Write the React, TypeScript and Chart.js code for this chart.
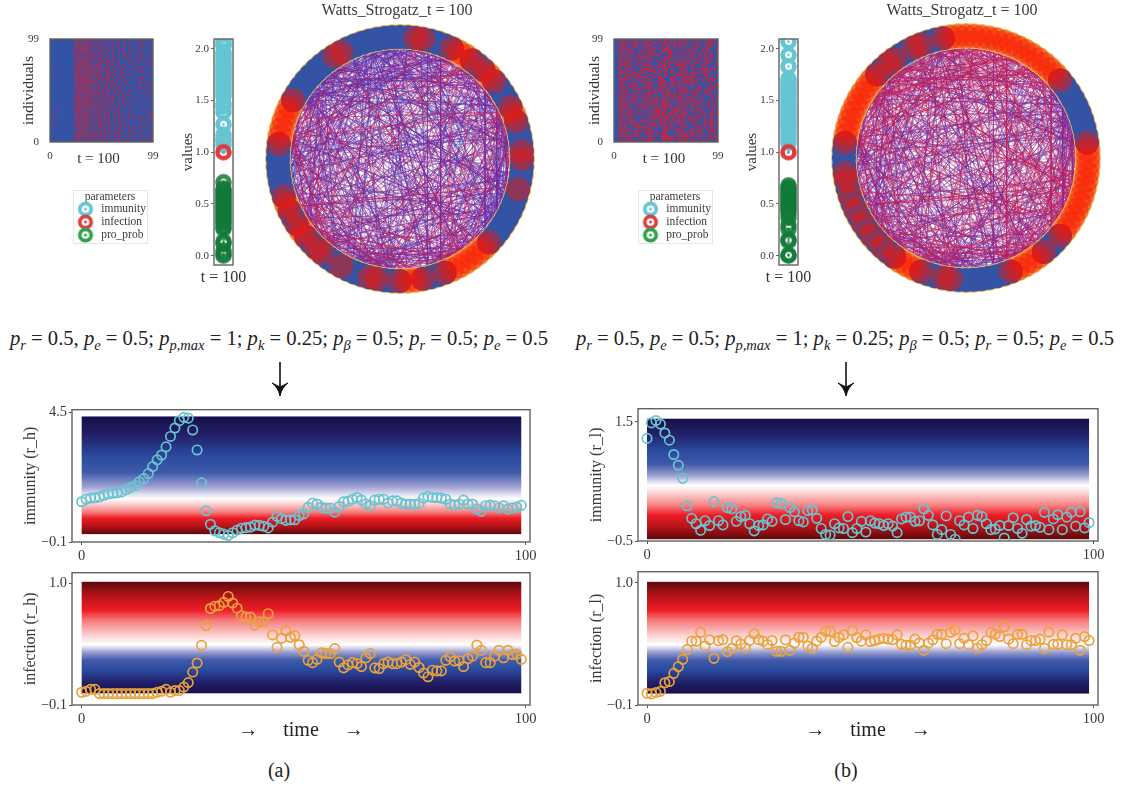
import React, { useEffect, useRef } from "react";
import { Chart, registerables } from "chart.js";

Chart.register(...registerables);

const SERIF = "'Liberation Serif', serif";
const INK = "#3a3a3a";
const TEAL = "#69c4d2";
const ORANGE = "#eba23c";

const immunityHigh = [1.33,1.42,1.46,1.47,1.5,1.56,1.61,1.63,1.65,1.68,1.76,1.83,1.9,2.04,2.15,2.33,2.58,2.82,2.99,3.28,3.65,3.95,4.21,4.33,4.3,3.88,3.17,2.0,1.01,0.53,0.3,0.23,0.18,0.13,0.23,0.32,0.39,0.41,0.43,0.5,0.49,0.46,0.4,0.61,0.81,0.73,0.67,0.69,0.69,0.84,0.9,1.13,1.28,1.25,1.13,1.1,1.1,0.96,1.16,1.33,1.35,1.42,1.48,1.39,1.25,1.19,1.39,1.42,1.42,1.28,1.36,1.36,1.28,1.25,1.25,1.24,1.27,1.46,1.52,1.48,1.48,1.46,1.42,1.25,1.21,1.25,1.39,1.25,1.25,1.07,0.99,1.19,1.21,1.19,1.11,1.19,1.07,1.11,1.14,1.2];
const infectionHigh = [0.015,0.024,0.041,0.041,0.003,0.003,0.003,0.003,0.003,0.003,0.003,0.003,0.003,0.003,0.003,0.003,0.003,0.015,0.024,0.041,0.015,0.03,0.03,0.062,0.103,0.198,0.28,0.44,0.619,0.773,0.794,0.799,0.829,0.882,0.823,0.776,0.708,0.696,0.696,0.622,0.652,0.652,0.726,0.534,0.422,0.504,0.572,0.513,0.528,0.445,0.386,0.304,0.283,0.313,0.372,0.366,0.366,0.41,0.289,0.236,0.263,0.283,0.274,0.248,0.327,0.366,0.236,0.23,0.274,0.289,0.274,0.274,0.289,0.31,0.268,0.289,0.239,0.189,0.156,0.215,0.209,0.209,0.304,0.336,0.298,0.301,0.248,0.319,0.342,0.442,0.395,0.283,0.283,0.342,0.395,0.327,0.395,0.357,0.36,0.313];
const immunityLow = [1.22,1.48,1.52,1.46,1.31,1.19,0.95,0.77,0.55,0.09,-0.12,-0.21,-0.32,-0.16,-0.24,0.16,-0.16,-0.23,0.06,0.04,-0.17,-0.09,-0.07,-0.21,-0.33,-0.24,-0.23,-0.13,-0.17,0.14,0.13,-0.14,0.06,-0.01,-0.16,-0.18,0.01,0.02,-0.12,-0.29,-0.39,-0.4,-0.21,-0.28,-0.29,-0.09,-0.36,-0.29,-0.17,-0.35,-0.16,-0.2,-0.21,-0.24,-0.21,-0.25,-0.36,-0.13,-0.1,-0.1,-0.17,-0.16,0.04,-0.07,-0.23,-0.39,-0.31,-0.08,-0.39,-0.47,-0.16,-0.23,-0.1,-0.29,-0.07,-0.09,-0.21,-0.31,-0.3,-0.24,-0.45,-0.24,-0.11,-0.29,-0.37,-0.14,-0.25,-0.24,-0.27,-0.02,-0.31,-0.13,-0.06,-0.31,-0.1,-0.02,-0.25,-0.01,-0.28,-0.19];
const infectionLow = [0.006,0,0.012,0.023,0.1,0.111,0.185,0.246,0.311,0.399,0.475,0.475,0.554,0.431,0.487,0.32,0.478,0.487,0.381,0.411,0.478,0.449,0.416,0.481,0.54,0.487,0.475,0.443,0.481,0.384,0.384,0.487,0.393,0.457,0.51,0.51,0.431,0.411,0.475,0.51,0.563,0.563,0.472,0.51,0.531,0.419,0.569,0.507,0.475,0.531,0.472,0.481,0.493,0.501,0.493,0.487,0.531,0.446,0.437,0.44,0.493,0.457,0.393,0.457,0.487,0.537,0.537,0.452,0.554,0.575,0.452,0.501,0.443,0.522,0.411,0.443,0.481,0.554,0.537,0.516,0.604,0.493,0.452,0.537,0.537,0.443,0.481,0.481,0.493,0.411,0.557,0.446,0.446,0.531,0.443,0.443,0.501,0.393,0.516,0.481];

const stripImmunityA = [1.07,1.11,1.13,1.17,1.27,1.39,1.44,1.47,1.54,1.57,1.6,1.62,1.65,1.68,1.71,1.73,1.76,1.79,1.81,1.84,1.86,1.89,1.92,1.95,1.97,2.03,2.05,2.08];
const stripProbA = [0,0.02,0.05,0.12,0.14,0.26,0.28,0.31,0.33,0.35,0.37,0.39,0.41,0.43,0.45,0.47,0.49,0.51,0.53,0.55,0.57,0.59,0.61,0.63,0.65,0.71];
const stripImmunityB = [1.09,1.13,1.16,1.2,1.23,1.26,1.29,1.31,1.34,1.37,1.4,1.43,1.46,1.49,1.52,1.55,1.58,1.6,1.63,1.66,1.68,1.71,1.83,1.94,2.07];
const stripProbB = [0,0.01,0.14,0.16,0.26,0.3,0.37,0.41,0.44,0.46,0.48,0.5,0.52,0.54,0.56,0.58,0.6,0.62,0.64,0.66,0.68];
const stripInfection = [1.0];
const stripTicks = [0, 0.5, 1, 1.5, 2];

const legendNames = ["immunity", "infection", "pro_prob"];

// individuals (rows, top = 99) by time: each hex digit holds 4 cells, a set bit = infected
const rasterA = [
"001ef9a481253","000fb6529a142","000de5a148291","000f7b264a185","000bd95a12843",
"001fe6a951248","000df5924a183","000eb9a25148c","000f6d5a14291","000df9a685124",
"000bf6d941282","000fe5ba42918","000fdb9651424","000ef7a928141","200ffd6a51482",
"000fb7d924185","000efb5a61248","000ff69d24812","000dfb7a58142","000fe7d942183",
"000bfe5a94128","000ffb9624182","000df6d5a1428","000fe9b692184","000ffd5a48129",
"000bf7d962841","000efb6954128","000fdf5a92814","000ef9b648121","000ff6da52800",
"000fd9a694100","000bfe5a28400","000ff7d952048","000ed6a940812","100fb9d642081",
"000ef6a954218","400df7b962814","000fe5a94248c","100bf96a52948","000ed7a964182",
"000fb5d92a418","000de6a958124","200f79d4a2941","000be5a96248a","000fd6b952849",
"000ed9a584a12","000b7ea962485","000fd5a9428a5","000e9b6a58492","000d7a59a6249",
];
const rasterB = [
"35a9c6ed3597a","1c6b3a95e2d68","36e5a1d7948b3","1a73c96d258e4","2d49b6e1a73c5",
"3b86d1f49a2c6","15c9e37a6d482","2e5a7c3196db4","3917d4ea6c5b2","16bd82f5a39c4",
"27c4e9a15d6b3","3d1a86bf729c5","1e93c5a7d6284","358d6fb1e4a97","26a7e1c9d53b8",
"1b49f6d8a27c3","3c6e1a95b7d42","27d8a4c3e6195","15bf369d7e4a2","3e92c71a6d5b8",
"1a6d4b9ef7253","2c85e7a93d164","39f1a6cb5482d","16d7e3b9a4c58","2b3a9f65e1d74",
"3c48d6a1f79e2","1e6bf97d2a543","25a9c1e7d38b6","3d76ae5b9c214","18c3f9e5d7a26",
"2f6d1b8a79c54","36a4f9e1c75d2","1c97dbf3a6248","2e5b1d9f7ac36","398a6ecf45d12",
"17d2bf96e4a3c","2a6c9d7ef13b5","3b815fe7c9d26","1d4a7ec96f8b3","25c7a3bf9e164",
"39e4d6a7c15b8","16b8f9d1a73e4","2c7f5ad8e1936","3a95c1e74d6b2","1f36d8ab95c7e",
"24b9e7c1d6a53","3e71a9c5f6d28","15c8d3fb7a96e","2a96e1bd74c35","37d5c9a1e6b84",
];

// Watts-Strogatz graph: for each node, the nodes it links to (two digits each)
const neighbours = [
"4718630592745136","8203917465281093","5629041873562914","1748396025718364","9036275148930627",
"3471968250374196","6592804713659280","2847165930284716","7315926048731592","0469382751046938",
"5182740693518274","8926351704892635","4037196285403719","1694820537169482","7250391846725039",
"3816574092381657","9463028175946302","6079413582607941","2538176904253817","8145692073814569",
"4790238516479023","1356847920135684","7902561348790256","5261093784526109","0873415629087341",
"3648205197364820","9124768305912476","6580931742658093","2917384056291738","8453016279845301",
"4068729513406872","1735294860173529","7391860425739186","5947102638594710","0286475391028647",
"3802619574380261","9518037246951803","6174592830617459","2630148795263014","8796325401879632",
"4352087169435208","1908743526190874","7564210983756421","5120876349512087","0746398215074639",
"3293514086329351","9859170342985917","6415726098641572","2071483965207148","8627039154862703",
"4283695710428369","1849250376184925","7405916832740591","5061372498506137","0617829453061782",
"3174285609317428","9730641285973064","6396108752639610","2952567314295256","8518923067851892",
"4074389126407438","1630745982163074","7296102548729610","5852468103585246","0418924775041892",
"3985370261398537","9541836720954183","6107292684610729","2763658049276365","8329014537832901",
"4985470213498547","1541936870154193","7107392456710739","5763758912576375","0329124568032912",
"3985480127398548","9541946703954194","6107402859610740","2763868315276386","8329324971832932",
"4885790132488579","1441256793144125","7007612358700761","5663978024566397","0229334685022933",
"3785690241378569","9341056827934105","6907412583690741","2563878149256387","8129234705812923",
"4785680351478568","1341046927134104","7907402683790740","5563868249556386","0129224805012922",
"3685570461368557","9241936037924193","6807392693680739","2463758259246375","8029124815802912",
];
const neighboursMore = [
"2973","6041","3358","8712","1596","7240","4683","9027","5312","0864",
"6195","2738","8406","3569","7012","1947","5680","9273","4158","0325",
"8764","2591","6043","3817","7496","1205","9638","5970","4382","0617",
"2849","6725","8190","3064","7531","1478","5923","9346","4081","0252",
"6817","2360","8594","3915","7148","1273","5749","9086","4630","0921",
"2384","6517","8049","3772","7105","1638","5291","9760","4413","0846",
"2905","6358","8712","3146","7580","1023","5467","9894","4259","0672",
"2036","6491","8125","3658","7374","1807","5140","9562","4926","0395",
"2759","6283","8647","3018","7402","1536","5879","9214","4041","0768",
"2190","6924","8357","3681","7026","1493","5705","9138","4862","0571",
];

const redNodesA = [0,1,5,6,7,11,12,13,15,16,17,18,22,23,33,34,42,43,44,45,46,47,48,55,56,57,59,60,61,63,64,67,71,72,75,76,77,78,81,82,83,84,85,86,87,88,96];
const redNodesB = [0,1,2,11,12,13,14,15,16,17,18,19,20,21,22,23,24,25,26,27,28,31,32,35,36,38,39,40,41,42,43,44,45,46,47,48,52,53,55,57,59,61,63,65,66,67,68,69,72,73,81,82,83,84,85,86,89,90,91,92,93,94,95,96,97,98,99];

const toneTop = [[0,"#160f4a"],[0.22,"#211f66"],[0.48,"#2a4a9f"],[0.68,"#3f5aa9"],[0.85,"#9c9fd0"],[0.94,"#dcdcef"],[1,"#ffffff"]];
const toneBottom = [[0,"#ffffff"],[0.15,"#fbd0d0"],[0.38,"#f67c7c"],[0.55,"#ee1c25"],[0.78,"#b31318"],[1,"#5c0a0c"]];

const framePlugin = {
  id: "frameBox",
  afterDatasetsDraw(chart: any) {
    const { ctx, chartArea: a } = chart;
    ctx.save();
    ctx.strokeStyle = "#626262";
    ctx.lineWidth = 1.4;
    ctx.strokeRect(a.left, a.top, a.right - a.left, a.bottom - a.top);
    ctx.restore();
  },
};

const rasterGround = {
  id: "rasterGround",
  beforeDatasetsDraw(chart: any) {
    const { ctx, chartArea: a } = chart;
    ctx.save();
    ctx.fillStyle = "#3553a5";
    ctx.fillRect(a.left, a.top, a.right - a.left, a.bottom - a.top);
    ctx.restore();
  },
};

const imagePlugin = {
  id: "imageBand",
  beforeDatasetsDraw(chart: any, _a: any, o: any) {
    const { ctx, scales } = chart;
    const top = scales.y.getPixelForValue(o.top);
    const bottom = scales.y.getPixelForValue(o.bottom);
    const left = scales.x.getPixelForValue(0);
    const right = scales.x.getPixelForValue(99);
    const g = ctx.createLinearGradient(0, top, 0, bottom);
    const w = o.white;
    const [upper, lower] = o.flip ? [toneBottom.slice().reverse().map(([t, c]: any) => [1 - t, c]), toneTop.slice().reverse().map(([t, c]: any) => [1 - t, c])] : [toneTop, toneBottom];
    upper.forEach(([t, c]: any) => g.addColorStop(t * w, c));
    lower.forEach(([t, c]: any) => g.addColorStop(w + t * (1 - w), c));
    ctx.save();
    ctx.fillStyle = g;
    ctx.fillRect(left, top, right - left, bottom - top);
    ctx.restore();
  },
};

const minusText = (v: number) => (v < 0 ? "\u2212" + Math.abs(v).toFixed(1) : v.toFixed(1));

function setTicks(list: number[]) {
  return (s: any) => {
    s.ticks = list.map((value) => ({ value }));
  };
}

type Box = { l: number; t: number; r: number; b: number };

function ChartBox({ frame, gutter, pads, build, blur }: { frame: Box; gutter: [number, number]; pads: [number, number]; build: () => any; blur?: number }) {
  const ref = useRef<HTMLCanvasElement>(null);
  const left = frame.l - gutter[0];
  const top = frame.t - pads[0];
  const width = frame.r - frame.l + gutter[0] + pads[1];
  const height = frame.b - frame.t + pads[0] + gutter[1];
  useEffect(() => {
    const chart = new Chart(ref.current as any, build());
    return () => chart.destroy();
  }, []);
  return (
    <canvas
      ref={ref}
      width={Math.round(width)}
      height={Math.round(height)}
      style={{ position: "absolute", left: Math.round(left), top: Math.round(top), width: Math.round(width), height: Math.round(height), filter: blur ? `blur(${blur}px)` : undefined }}
    />
  );
}

function panelConfig(p: any) {
  return {
    type: "scatter",
    data: {
      datasets: [
        {
          data: p.values.map((v: number, i: number) => ({ x: i, y: v })),
          borderColor: p.color,
          backgroundColor: "rgba(0,0,0,0)",
          borderWidth: 1.7,
          pointRadius: 4.7,
        },
      ],
    },
    plugins: [imagePlugin, framePlugin],
    options: {
      animation: false,
      responsive: false,
      events: [],
      layout: { autoPadding: false, padding: { top: p.pads[0], right: p.pads[1], left: 0, bottom: 0 } },
      plugins: {
        legend: { display: false },
        tooltip: { enabled: false },
        imageBand: { top: p.image[0], bottom: p.image[1], white: p.white, flip: p.flip },
      },
      scales: {
        x: {
          type: "linear",
          min: p.x[0],
          max: p.x[1],
          afterBuildTicks: setTicks([0, 100]),
          afterFit: (s: any) => { s.height = p.gutter[1]; },
          grid: { drawOnChartArea: false, tickLength: 3, color: "#555" },
          border: { display: false },
          title: p.xTitle
            ? { display: true, text: p.xTitle, font: { family: SERIF, size: 20 }, color: "#222", padding: 0 }
            : { display: false },
          ticks: { maxRotation: 0, minRotation: 0, autoSkip: false, padding: 2, color: INK, font: { family: SERIF, size: 14.5 }, callback: (v: number) => String(v) },
        },
        y: {
          type: "linear",
          min: p.y[0],
          max: p.y[1],
          afterBuildTicks: setTicks(p.ticks),
          afterFit: (s: any) => { s.width = p.gutter[0]; },
          grid: { drawOnChartArea: false, tickLength: 3, color: "#555" },
          border: { display: false },
          title: { display: true, text: p.title, font: { family: SERIF, size: 16 }, color: INK, padding: 0 },
          ticks: { autoSkip: false, padding: 2, color: INK, font: { family: SERIF, size: 14.5 }, callback: (v: number) => minusText(v) },
        },
      },
    },
  };
}

function rasterConfig(rows: string[], gutter: [number, number], cell: number) {
  const infected: any[] = [];
  rows.forEach((row, r) => {
    [...row].forEach((hex, h) => {
      const bits = parseInt(hex, 16);
      [8, 4, 2, 1].forEach((mask, b) => {
        const k = h * 4 + b;
        if (k < 50 && bits & mask) infected.push({ x: ((k + 0.5) * 99) / 50, y: 99 - ((r + 0.5) * 99) / 50 });
      });
    });
  });
  return {
    type: "scatter",
    data: {
      datasets: [{ data: infected, pointStyle: "rect", pointRadius: cell, borderWidth: 0, backgroundColor: "#dd1f30" }],
    },
    plugins: [rasterGround, framePlugin],
    options: {
      animation: false,
      responsive: false,
      events: [],
      layout: { autoPadding: false, padding: { top: 10, right: 12, left: 0, bottom: 0 } },
      plugins: { legend: { display: false }, tooltip: { enabled: false } },
      scales: {
        x: {
          type: "linear", min: 0, max: 99,
          afterBuildTicks: setTicks([0, 99]),
          afterFit: (s: any) => { s.height = gutter[1]; },
          grid: { display: false },
          border: { display: false },
          ticks: { maxRotation: 0, minRotation: 0, autoSkip: false, padding: 0, color: INK, font: { family: SERIF, size: 11 }, callback: (v: number) => String(v) },
        },
        y: {
          type: "linear", min: 0, max: 99,
          afterBuildTicks: setTicks([0, 99]),
          afterFit: (s: any) => { s.width = gutter[0]; },
          grid: { display: false },
          border: { display: false },
          title: { display: true, text: "individuals", font: { family: SERIF, size: 15.5 }, color: "#333", padding: 0 },
          ticks: { autoSkip: false, padding: 3, color: INK, font: { family: SERIF, size: 11 }, callback: (v: number) => String(v) },
        },
      },
    },
  };
}

function marker(ring: string, dot: string, outer: number, ringWidth: number, dotR: number) {
  const c = document.createElement("canvas");
  const size = Math.ceil(outer * 2 + 2);
  c.width = size;
  c.height = size;
  const g = c.getContext("2d") as CanvasRenderingContext2D;
  g.strokeStyle = ring;
  g.lineWidth = ringWidth;
  g.beginPath();
  g.arc(size / 2, size / 2, outer - ringWidth / 2, 0, Math.PI * 2);
  g.stroke();
  g.fillStyle = dot;
  g.beginPath();
  g.arc(size / 2, size / 2, dotR, 0, Math.PI * 2);
  g.fill();
  return c;
}

function stripConfig(immunity: number[], prob: number[], gutter: [number, number]) {
  const at = (list: number[]) => list.map((y) => ({ x: 0, y }));
  return {
    type: "scatter",
    data: {
      datasets: [
        { data: at(stripInfection), pointStyle: marker("#df3a3d", "#9a9a9a", 8.3, 4.6, 1.8), pointRadius: 8 },
        { data: at(immunity), pointStyle: marker("#66c5d3", "#66c5d3", 8.3, 4.8, 1.2), pointRadius: 8 },
        { data: at(prob), pointStyle: marker("rgba(18,122,56,0.85)", "rgba(18,122,56,0.85)", 8.3, 4.8, 1.2), pointRadius: 8 },
      ],
    },
    plugins: [framePlugin],
    options: {
      animation: false,
      responsive: false,
      events: [],
      layout: { autoPadding: false, padding: { top: 10, right: 20, left: 0, bottom: 0 } },
      plugins: { legend: { display: false }, tooltip: { enabled: false } },
      scales: {
        x: {
          type: "linear", min: -1, max: 1,
          afterFit: (s: any) => { s.height = gutter[1]; },
          grid: { display: false },
          border: { display: false },
          ticks: { display: false },
        },
        y: {
          type: "linear", min: -0.09, max: 2.094,
          afterBuildTicks: setTicks(stripTicks),
          afterFit: (s: any) => { s.width = gutter[0]; },
          grid: { drawOnChartArea: false, tickLength: 3, color: "#666" },
          border: { display: false },
          title: { display: true, text: "values", font: { family: SERIF, size: 15 }, color: "#333", padding: 0 },
          ticks: { autoSkip: false, padding: 2, color: INK, font: { family: SERIF, size: 11 }, callback: (v: number) => v.toFixed(1) },
        },
      },
    },
  };
}

function legendConfig() {
  const styles = [
    marker("#66c5d3", "#66c5d3", 7.6, 3.8, 1.5),
    marker("#d9403f", "#d9403f", 7.6, 3.8, 1.5),
    marker("#35a04b", "#35a04b", 7.6, 3.8, 1.5),
  ];
  return {
    type: "scatter",
    data: { datasets: legendNames.map((label) => ({ label, data: [] })) },
    options: {
      animation: false,
      responsive: false,
      events: [],
      layout: { autoPadding: false, padding: 0 },
      scales: { x: { display: false }, y: { display: false } },
      plugins: {
        tooltip: { enabled: false },
        legend: {
          display: true,
          position: "top",
          align: "start",
          maxHeight: 60,
          title: { display: true, text: "parameters", color: INK, font: { family: SERIF, size: 11.5 }, padding: { top: 0, bottom: -3 } },
          labels: {
            usePointStyle: true,
            pointStyleWidth: 20,
            padding: 1.5,
            color: INK,
            font: { family: SERIF, size: 11.5 },
            generateLabels: () =>
              legendNames.map((text, i) => ({ text, pointStyle: styles[i], fontColor: INK, datasetIndex: i, lineWidth: 0 })),
          },
        },
      },
    },
  };
}

function networkConfig(redNodes: number[]) {
  const isRed = new Set(redNodes);
  const spot = (i: number, r: number) => ({ x: r * Math.cos((i * Math.PI) / 50), y: r * Math.sin((i * Math.PI) / 50) });
  const bothRed: any[] = [];
  const mixed: any[] = [];
  const bothBlue: any[] = [];
  [neighbours, neighboursMore].forEach((table) =>
    table.forEach((row, i) => {
      for (let k = 0; k < row.length; k += 2) {
        const j = Number(row.slice(k, k + 2));
        const n = Number(isRed.has(i)) + Number(isRed.has(j));
        const bucket = n === 2 ? bothRed : n === 1 ? mixed : bothBlue;
        bucket.push(spot(i, 0.905), spot(j, 0.905), { x: NaN, y: NaN });
      }
    })
  );
  const indices = neighbours.map((_, i) => i);
  const all = indices.map((i) => spot(i, 1));
  // a node in the middle of an infected run has no blue left under it
  const blueBase = indices
    .filter((i) => !(isRed.has(i) && isRed.has((i + 1) % 100) && isRed.has((i + 99) % 100)))
    .map((i) => spot(i, 1));
  return {
    type: "scatter",
    data: {
      datasets: [
        { order: 1, data: redNodes.map((i) => spot(i, 1)), pointRadius: 12, borderWidth: 0, backgroundColor: "rgba(250,20,0,0.45)" },
        { order: 2, data: blueBase, pointRadius: 12, borderWidth: 0, backgroundColor: "#3553a5" },
        { order: 3, data: all, pointRadius: 12.9, borderWidth: 0, backgroundColor: "#edbd57" },
        { order: 4, data: bothRed, showLine: true, pointRadius: 0, borderWidth: 0.46, borderColor: "rgba(190,30,90,0.9)", spanGaps: false },
        { order: 5, data: mixed, showLine: true, pointRadius: 0, borderWidth: 0.46, borderColor: "rgba(115,40,160,0.9)", spanGaps: false },
        { order: 6, data: bothBlue, showLine: true, pointRadius: 0, borderWidth: 0.46, borderColor: "rgba(62,62,175,0.9)", spanGaps: false },
      ],
    },
    options: {
      animation: false,
      responsive: false,
      events: [],
      layout: { autoPadding: false, padding: 0 },
      plugins: { legend: { display: false }, tooltip: { enabled: false } },
      scales: {
        x: { type: "linear", display: false, min: -1.1475, max: 1.1475 },
        y: { type: "linear", display: false, min: -1.1475, max: 1.1475 },
      },
    },
  };
}

const subStyle: React.CSSProperties = { fontSize: 14.5, lineHeight: 0, verticalAlign: -5 };
const P = ({ s }: { s: string }) => (
  <>
    <i>p</i>
    <i style={subStyle}>{s}</i>
  </>
);

function Equation({ left }: { left: number }) {
  return (
    <div style={{ position: "absolute", left, top: 327, fontFamily: SERIF, fontSize: 20.6, color: "#222", whiteSpace: "nowrap" }}>
      <P s="r" /> = 0.5, <P s="e" /> = 0.5; <P s="p,max" /> = 1; <P s="k" /> = 0.25; <P s="β" /> = 0.5; <P s="r" /> = 0.5; <P s="e" /> = 0.5
    </div>
  );
}

function DownArrow({ x }: { x: number }) {
  return (
    <svg width={20} height={36} style={{ position: "absolute", left: x - 10, top: 362 }}>
      <path d="M10 0 L10 30" stroke="#111" strokeWidth={1.6} fill="none" />
      <path d="M2 21 Q8 25 10 34 Q12 25 18 21 Q12 24 10 25 Q8 24 2 21 Z" fill="#111" stroke="#111" strokeWidth={1} />
    </svg>
  );
}

function Label({ x, y, text, size, color }: { x: number; y: number; text: string; size: number; color: string }) {
  return (
    <div style={{ position: "absolute", left: x - 100, width: 200, top: y - size * 0.6, lineHeight: 1.2, textAlign: "center", fontFamily: SERIF, fontSize: size, color, whiteSpace: "nowrap" }}>{text}</div>
  );
}

const TIME_TITLE = "\u2192     time     \u2192";

export default function App() {
  const panels = [
    { values: immunityHigh, color: TEAL, frame: { l: 72, t: 407, r: 530, b: 542 }, gutter: [51, 24], pads: [8, 16], x: [-2.18, 100.97], y: [-0.1, 4.6], ticks: [-0.1, 4.5], image: [4.36, 0.18], white: 0.7, flip: false, title: "immunity (r_h)" },
    { values: infectionHigh, color: ORANGE, frame: { l: 72, t: 570, r: 530, b: 705 }, gutter: [51, 38], pads: [8, 16], x: [-2.18, 100.97], y: [-0.1, 1.097], ticks: [-0.1, 1.0], image: [1.015, 0.006], white: 0.564, flip: true, title: "infection (r_h)", xTitle: TIME_TITLE },
    { values: immunityLow, color: TEAL, frame: { l: 638, t: 406, r: 1098, b: 541 }, gutter: [51, 24], pads: [8, 16], x: [-2.02, 101], y: [-0.5, 1.718], ticks: [-0.5, 1.5], image: [1.55, -0.47], white: 0.554, flip: false, title: "immunity (r_l)" },
    { values: infectionLow, color: ORANGE, frame: { l: 638, t: 569, r: 1098, b: 705 }, gutter: [51, 38], pads: [8, 16], x: [-2.02, 101], y: [-0.1, 1.1], ticks: [-0.1, 1.0], image: [1.009, 0.003], white: 0.562, flip: true, title: "infection (r_l)", xTitle: TIME_TITLE },
  ];
  return (
    <div style={{ position: "absolute", left: 0, top: 0, width: 1121, height: 786, overflow: "hidden", background: "#fff", fontFamily: SERIF }}>
      <ChartBox frame={{ l: 50, t: 39, r: 153, b: 142 }} gutter={[30, 25]} pads={[10, 12]} blur={0.5} build={() => rasterConfig(rasterA, [30, 25], 1.05)} />
      <ChartBox frame={{ l: 614, t: 39, r: 718, b: 142 }} gutter={[28, 25]} pads={[10, 12]} blur={0.5} build={() => rasterConfig(rasterB, [28, 25], 1.25)} />
      <Label x={98.5} y={158} text="t = 100" size={15} color="#333" />
      <Label x={664} y={158} text="t = 100" size={15} color="#333" />

      <ChartBox frame={{ l: 214, t: 39, r: 233, b: 265 }} gutter={[35, 21]} pads={[10, 20]} blur={0.4} build={() => stripConfig(stripImmunityA, stripProbA, [35, 21])} />
      <ChartBox frame={{ l: 779, t: 39, r: 798, b: 265 }} gutter={[36, 21]} pads={[10, 20]} blur={0.4} build={() => stripConfig(stripImmunityB, stripProbB, [36, 21])} />
      <Label x={223.5} y={277} text="t = 100" size={16} color="#333" />
      <Label x={788.5} y={277} text="t = 100" size={16} color="#333" />

      <div style={{ position: "absolute", left: 73, top: 190, width: 75, height: 54, border: "1px solid #e6e6e6", boxSizing: "border-box" }} />
      <ChartBox frame={{ l: 74, t: 191, r: 147, b: 243 }} gutter={[0, 0]} pads={[0, 0]} build={legendConfig} />
      <div style={{ position: "absolute", left: 638, top: 190, width: 75, height: 54, border: "1px solid #e6e6e6", boxSizing: "border-box" }} />
      <ChartBox frame={{ l: 639, t: 191, r: 712, b: 243 }} gutter={[0, 0]} pads={[0, 0]} build={legendConfig} />

      <ChartBox frame={{ l: 260, t: 19, r: 540, b: 299 }} gutter={[0, 0]} pads={[0, 0]} blur={0.45} build={() => networkConfig(redNodesA)} />
      <ChartBox frame={{ l: 826, t: 18, r: 1106, b: 298 }} gutter={[0, 0]} pads={[0, 0]} blur={0.45} build={() => networkConfig(redNodesB)} />
      <Label x={397} y={10} text="Watts_Strogatz_t = 100" size={16} color={INK} />
      <Label x={962} y={10} text="Watts_Strogatz_t = 100" size={16} color={INK} />

      <Equation left={10} />
      <Equation left={576} />
      <DownArrow x={280} />
      <DownArrow x={846} />

      {panels.map((p, i) => (
        <ChartBox key={i} frame={p.frame} gutter={p.gutter as [number, number]} pads={p.pads as [number, number]} blur={0.35} build={() => panelConfig(p)} />
      ))}

      <Label x={279} y={770} text="(a)" size={20} color="#222" />
      <Label x={846} y={770} text="(b)" size={20} color="#222" />
    </div>
  );
}
